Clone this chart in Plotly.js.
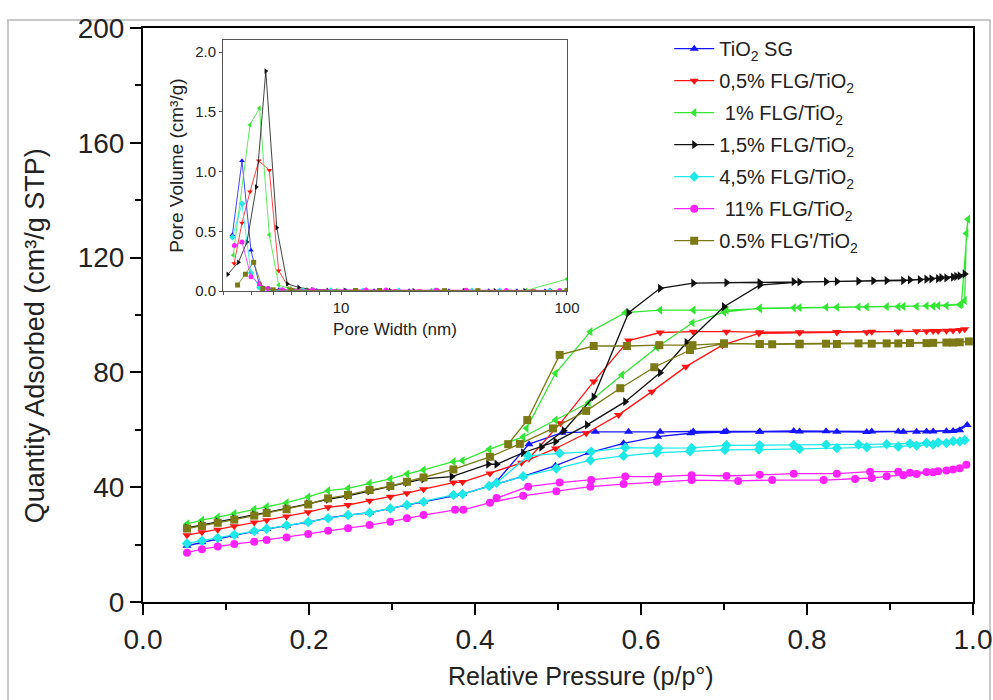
<!DOCTYPE html>
<html>
<head>
<meta charset="utf-8">
<script src="https://cdn.plot.ly/plotly-3.0.1.min.js"></script>
<style>html,body{margin:0;padding:0;background:#fff;}#chart{width:993px;height:700px;}</style>
</head>
<body>
<div id="chart"></div>
<script>
// ===== Main isotherms (adsorption branch followed by desorption branch) =====
const seriesNames = ['TiO<sub>2</sub> SG', '0,5% FLG/TiO<sub>2</sub>', '\u00a01% FLG/TiO<sub>2</sub>',
  '1,5% FLG/TiO<sub>2</sub>', '4,5% FLG/TiO<sub>2</sub>', '\u00a011% FLG/TiO<sub>2</sub>', '0.5% FLG\'/TiO<sub>2</sub>'];
const xTitle = 'Relative Pressure (p/p°)';
const yTitle = 'Quantity Adsorbed (cm³/g STP)';
const x2Title = 'Pore Width (nm)';
const y2Title = 'Pore Volume (cm³/g)';

const pTiO2 = [0.053,0.071,0.09,0.11,0.134,0.149,0.173,0.199,0.223,0.247,0.273,0.298,0.318,0.338,0.374,0.385,0.417,0.458,0.497,0.537,0.579,0.62,0.66,0.70,0.743,0.791,0.836,0.872,0.91,0.932,0.952,0.968,0.984,0.993,
  0.976,0.944,0.916,0.878,0.823,0.784,0.743,0.703,0.663,0.623,0.585,0.545,0.505,0.465,0.426];
const vTiO2 = [19.6,20.8,22.0,23.2,24.6,25.4,26.6,27.8,29.3,30.3,31.1,32.6,33.8,34.9,37.2,37.6,40.4,43.8,47.5,52.0,55.3,57.6,58.8,59.2,59.3,59.4,59.3,59.2,59.4,59.3,59.4,59.5,59.8,61.7,
  59.6,59.4,59.3,59.4,59.5,59.6,59.4,59.5,59.4,59.3,59.3,59.3,59.0,55.0,42.0];

const pF05 = [0.053,0.071,0.09,0.11,0.134,0.149,0.173,0.199,0.223,0.247,0.273,0.298,0.318,0.338,0.374,0.385,0.418,0.456,0.497,0.534,0.573,0.613,0.654,0.698,0.742,0.791,0.836,0.872,0.91,0.932,0.952,0.968,0.984,0.99,
  0.976,0.958,0.944,0.91,0.878,0.836,0.791,0.743,0.703,0.663,0.623,0.585,0.543,0.503,0.465];
const vF05 = [23.3,24.3,25.2,26.4,27.7,28.5,29.8,31.3,33.0,33.8,35.3,36.7,37.9,39.3,41.6,41.8,44.8,48.5,53.5,58.8,65.2,73.3,82.0,89.5,93.6,93.8,94.0,94.0,94.2,94.3,94.4,94.5,94.8,95.0,
  94.6,94.4,94.3,94.2,94.2,94.1,94.0,94.0,94.2,94.2,93.9,91.1,76.8,62.3,50.0];

const pF1 = [0.053,0.071,0.09,0.11,0.134,0.149,0.173,0.199,0.223,0.247,0.273,0.298,0.318,0.338,0.374,0.385,0.417,0.458,0.497,0.537,0.577,0.619,0.662,0.70,0.743,0.791,0.836,0.872,0.91,0.932,0.952,0.968,0.984,0.99,0.992,0.994,
  0.986,0.958,0.944,0.916,0.896,0.862,0.823,0.784,0.743,0.703,0.663,0.623,0.581,0.539,0.497,0.462];
const vF1 = [27.2,28.5,29.6,30.8,32.3,33.2,34.6,36.6,38.8,39.6,41.4,42.9,44.6,46.0,48.9,49.3,53.2,57.5,63.4,69.5,79.1,88.7,97.3,101.0,102.4,102.6,102.7,102.8,102.9,103.0,103.1,103.3,103.6,105.0,128.4,133.4,
  103.8,103.3,103.2,103.0,102.9,102.8,102.7,102.5,102.2,101.7,101.7,101.7,100.8,94.2,79.7,60.5];

const pF15 = [0.053,0.071,0.09,0.11,0.134,0.149,0.173,0.199,0.223,0.247,0.273,0.298,0.318,0.338,0.372,0.416,0.426,0.458,0.497,0.535,0.581,0.623,0.655,0.70,0.743,0.791,0.823,0.862,0.896,0.924,0.944,0.958,0.968,0.976,0.984,0.99,
  0.98,0.962,0.95,0.936,0.916,0.88,0.836,0.784,0.743,0.703,0.663,0.623,0.585,0.543,0.507,0.48];
const vF15 = [25.8,26.8,27.9,29.0,30.4,31.3,32.6,34.2,35.8,37.0,38.7,40.1,41.6,42.9,43.7,48.0,48.0,52.0,55.9,61.7,69.8,79.9,90.4,102.9,110.4,111.5,111.6,111.8,112.0,112.2,112.5,112.7,112.9,113.2,113.6,114.3,
  113.5,113.0,112.6,112.3,112.0,111.9,111.7,111.6,111.3,111.3,111.1,109.3,100.8,71.5,59.7,54.0];

const pF45 = [0.053,0.071,0.09,0.11,0.134,0.149,0.173,0.199,0.223,0.247,0.273,0.298,0.318,0.338,0.374,0.385,0.417,0.458,0.498,0.539,0.579,0.619,0.659,0.701,0.742,0.791,0.836,0.872,0.91,0.932,0.952,0.968,0.984,0.99,
  0.976,0.958,0.944,0.924,0.896,0.862,0.823,0.784,0.743,0.703,0.661,0.621,0.581,0.540,0.502,0.464,0.426];
const vF45 = [20.4,21.3,22.3,23.4,24.7,25.5,26.7,27.9,29.2,30.3,31.1,32.6,33.8,34.9,37.3,37.6,40.4,43.8,46.5,49.4,50.9,52.0,52.5,53.0,53.1,53.3,53.6,53.9,54.2,54.5,54.9,55.4,55.9,56.4,
  56.0,55.6,55.4,55.2,55.0,54.9,54.8,54.7,54.6,54.6,53.7,53.6,53.8,52.4,51.8,50.9,41.5];

const pF11 = [0.053,0.071,0.09,0.11,0.134,0.149,0.173,0.199,0.223,0.247,0.273,0.298,0.318,0.338,0.376,0.386,0.418,0.458,0.498,0.539,0.579,0.619,0.661,0.717,0.758,0.82,0.858,0.878,0.896,0.916,0.932,0.952,0.968,0.984,0.992,
  0.976,0.958,0.944,0.924,0.91,0.876,0.836,0.784,0.743,0.703,0.661,0.621,0.581,0.540,0.502,0.464,0.426];
const vF11 = [17.2,18.4,19.3,20.2,21.0,21.6,22.5,23.7,24.8,25.7,26.8,28.0,29.2,30.3,32.1,32.1,34.6,37.0,38.6,40.2,41.1,41.9,42.5,42.2,42.5,42.5,42.9,43.2,43.8,44.2,44.6,45.2,45.8,46.6,47.8,
  46.2,45.6,45.3,45.0,45.4,45.4,44.7,44.7,44.3,43.9,44.2,43.7,43.7,42.5,41.6,40.2,36.2];

const pF05b = [0.053,0.071,0.09,0.11,0.134,0.149,0.173,0.199,0.223,0.247,0.273,0.298,0.318,0.338,0.374,0.418,0.454,0.494,0.534,0.575,0.616,0.659,0.70,0.743,0.791,0.823,0.862,0.896,0.924,0.952,0.968,0.984,0.995,
  0.976,0.944,0.91,0.878,0.836,0.791,0.758,0.743,0.70,0.662,0.622,0.583,0.543,0.502,0.463,0.44];
const vF05b = [25.6,26.5,27.6,28.7,30.1,31.0,32.3,34.0,36.1,37.3,39.0,40.4,41.9,43.4,46.2,50.6,55.1,60.5,66.6,74.5,81.8,87.8,90.0,89.9,90.0,90.0,90.1,90.1,90.2,90.3,90.4,90.5,90.8,
  90.4,90.2,90.1,90.0,89.9,89.8,89.8,89.9,90.1,89.5,89.5,89.2,89.2,86.1,63.4,55.0];

// ===== Inset: pore size distribution =====
const wTiO2 = [3.3,3.64,3.99,4.35,4.8,5.3,6.2,7.8,10.5,14,20,30,45,60,80,100];
const dTiO2 = [0.47,1.09,0.34,0.05,0.02,0.01,0.005,0.004,0.004,0.003,0.003,0.003,0.003,0.002,0.002,0.002];
const wF05 = [3.36,3.64,3.95,4.32,4.81,5.29,5.9,7.0,8.2,11.6,17.5,22.2,36,70.7,100];
const dF05 = [0.23,0.57,0.83,1.09,1.01,0.17,0.02,0.01,0.005,0.004,0.004,0.003,0.003,0.004,0.003];
const wF1 = [3.33,3.95,4.35,4.81,5.29,5.9,7.0,9.5,13,18,25,35,50,66,100];
const dF1 = [0.30,1.39,1.53,0.47,0.05,0.02,0.01,0.005,0.004,0.004,0.005,0.004,0.004,0.005,0.10];
const wF15 = [3.15,3.51,3.83,4.21,4.64,5.19,5.78,6.49,7.47,8.73,10.4,13,16.5,21,27,35,48,65,85,100];
const dF15 = [0.14,0.24,0.41,0.87,1.84,0.53,0.06,0.03,0.01,0.006,0.005,0.004,0.004,0.003,0.003,0.003,0.002,0.002,0.002,0.002];
const wF45 = [3.3,3.64,3.99,4.35,4.8,5.4,6.8,9,12.5,18,26,38,50.3,83.8,100];
const dF45 = [0.45,0.73,0.15,0.03,0.01,0.005,0.004,0.004,0.003,0.003,0.003,0.003,0.003,0.003,0.002];
const wF11 = [3.37,3.64,3.99,4.35,4.74,5.5,7.48,12.9,15.8,26.4,35.8,53.9,92.9];
const dF11 = [0.38,0.41,0.12,0.06,0.02,0.01,0.01,0.008,0.008,0.006,0.006,0.005,0.005];
const wF05b = [3.48,3.77,4.1,4.5,5.0,6.0,11.6,14.8,28.7,40.3,100];
const dF05b = [0.05,0.14,0.24,0.02,0.01,0.005,0.004,0.004,0.003,0.003,0.003];

const mainP = [pTiO2, pF05, pF1, pF15, pF45, pF11, pF05b];
const mainV = [vTiO2, vF05, vF1, vF15, vF45, vF11, vF05b];
const insW = [wTiO2, wF05, wF1, wF15, wF45, wF11, wF05b];
const insD = [dTiO2, dF05, dF1, dF15, dF45, dF11, dF05b];

const colors = ['#1414ff', '#ff1414', '#33e633', '#111111', '#1ee8e8', '#ff22ff', '#7b7a14'];
const symbols = ['triangle-up', 'triangle-down', 'triangle-left', 'triangle-right', 'diamond', 'circle', 'square'];

const FONT = 'Liberation Sans, Arial, sans-serif';
const TXT = '#222';
const traces = [];
for (let i = 0; i < 7; i++) {
  traces.push({
    x: mainP[i], y: mainV[i], type: 'scatter', mode: 'lines+markers',
    name: seriesNames[i], legendgroup: 'g' + i,
    line: {color: colors[i], width: 1.3},
    marker: {color: colors[i], symbol: symbols[i], size: 8},
    xaxis: 'x', yaxis: 'y'
  });
}
for (let i = 0; i < 7; i++) {
  traces.push({
    x: insW[i], y: insD[i], type: 'scatter', mode: 'lines+markers',
    showlegend: false,
    line: {color: colors[i], width: 0.8},
    marker: {color: colors[i], symbol: symbols[i], size: 5},
    xaxis: 'x2', yaxis: 'y2'
  });
}

const logTicks = [3,4,5,6,7,8,9,10,20,30,40,50,60,70,80,90,100];
const logText = logTicks.map(v => (v === 10 || v === 100) ? String(v) : '');

const layout = {
  width: 993, height: 700,
  margin: {l: 143, r: 20, t: 28, b: 98},
  paper_bgcolor: '#ffffff', plot_bgcolor: '#ffffff',
  font: {family: FONT, color: TXT},
  showlegend: true,
  legend: {
    x: 0.634, y: 0.998, xanchor: 'left', yanchor: 'top',
    bgcolor: 'rgba(0,0,0,0)', font: {family: FONT, size: 20, color: TXT},
    tracegroupgap: 3, itemwidth: 40
  },
  xaxis: {
    domain: [0, 1], range: [0, 1], dtick: 0.2, tick0: 0, tickformat: '.1f',
    showline: true, linecolor: '#000', linewidth: 2, mirror: true,
    ticks: 'outside', ticklen: 11, tickwidth: 2, tickcolor: '#000',
    minor: {dtick: 0.1, ticks: 'outside', ticklen: 6, tickwidth: 2, tickcolor: '#000'},
    showgrid: false, zeroline: false,
    tickfont: {family: FONT, size: 28, color: TXT}
  },
  yaxis: {
    domain: [0, 1], range: [0, 200], dtick: 40, tick0: 0,
    showline: true, linecolor: '#000', linewidth: 2, mirror: true,
    ticks: 'outside', ticklen: 11, tickwidth: 2, tickcolor: '#000',
    minor: {dtick: 20, ticks: 'outside', ticklen: 6, tickwidth: 2, tickcolor: '#000'},
    showgrid: false, zeroline: false,
    tickfont: {family: FONT, size: 28, color: TXT}
  },
  xaxis2: {
    domain: [0.0964, 0.5108], anchor: 'y2', type: 'log', range: [Math.log10(3), 2],
    tickvals: logTicks, ticktext: logText,
    showline: true, linecolor: '#555', linewidth: 1, mirror: true,
    ticks: 'outside', ticklen: 3, tickcolor: '#555',
    showgrid: false, zeroline: false,
    tickfont: {family: FONT, size: 15, color: TXT},
    title: {text: x2Title, font: {family: FONT, size: 17, color: TXT}, standoff: 8}
  },
  yaxis2: {
    domain: [0.5418, 0.979], anchor: 'x2', range: [0, 2.1], dtick: 0.5, tick0: 0, tickformat: '.1f',
    showline: true, linecolor: '#555', linewidth: 1, mirror: true,
    ticks: 'outside', ticklen: 3, tickcolor: '#555',
    showgrid: false, zeroline: false,
    tickfont: {family: FONT, size: 15, color: TXT},
    title: {text: y2Title, font: {family: FONT, size: 19, color: TXT}, standoff: 6}
  },
  annotations: [
    {text: xTitle, xref: 'paper', yref: 'paper', x: 0.528, y: -0.129, xanchor: 'center', yanchor: 'middle',
     showarrow: false, font: {family: FONT, size: 25, color: TXT}},
    {text: yTitle, xref: 'paper', yref: 'paper', x: -0.130, y: 0.463, xanchor: 'center', yanchor: 'middle',
     textangle: -90, showarrow: false, font: {family: FONT, size: 27, color: TXT}}
  ],
  shapes: [{
    type: 'rect', xref: 'paper', yref: 'paper',
    x0: -0.1627, x1: 1.0205, y0: -0.172, y1: 1.0139,
    line: {color: '#b8b8b8', width: 1.5}, fillcolor: 'rgba(0,0,0,0)', layer: 'below'
  }]
};

Plotly.newPlot('chart', traces, layout, {displayModeBar: false, staticPlot: true});
</script>
</body>
</html>
